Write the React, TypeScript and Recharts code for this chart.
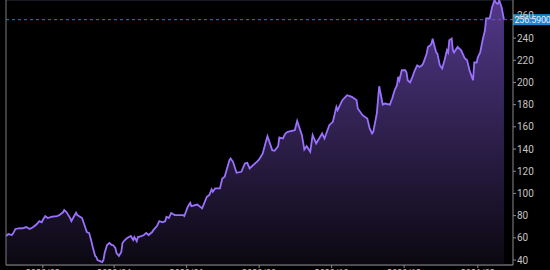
import {
  Area,
  AreaChart,
  CartesianGrid,
  ReferenceLine,
  XAxis,
  YAxis,
} from 'recharts'

const dates = [
  '2020-01-01', '2020-01-03', '2020-01-06', '2020-01-07', '2020-01-09', '2020-01-13', '2020-01-15', '2020-01-18',
  '2020-01-21', '2020-01-24', '2020-01-27', '2020-01-29', '2020-01-31', '2020-02-01', '2020-02-03', '2020-02-05',
  '2020-02-09', '2020-02-13', '2020-02-15', '2020-02-18', '2020-02-19', '2020-02-21', '2020-02-24', '2020-02-25',
  '2020-02-27', '2020-02-29', '2020-03-01', '2020-03-05', '2020-03-07', '2020-03-09', '2020-03-11', '2020-03-13',
  '2020-03-14', '2020-03-16', '2020-03-17', '2020-03-18', '2020-03-22', '2020-03-23', '2020-03-24', '2020-03-26',
  '2020-03-28', '2020-03-30', '2020-03-31', '2020-04-02', '2020-04-03', '2020-04-05', '2020-04-07', '2020-04-08',
  '2020-04-10', '2020-04-12', '2020-04-15', '2020-04-17', '2020-04-18', '2020-04-20', '2020-04-21', '2020-04-24',
  '2020-04-26', '2020-04-28', '2020-04-30', '2020-05-03', '2020-05-04', '2020-05-07', '2020-05-09', '2020-05-12',
  '2020-05-14', '2020-05-15', '2020-05-17', '2020-05-19', '2020-05-22', '2020-05-26', '2020-05-29', '2020-05-30',
  '2020-06-02', '2020-06-04', '2020-06-05', '2020-06-10', '2020-06-14', '2020-06-18', '2020-06-20', '2020-06-22',
  '2020-06-23', '2020-06-25', '2020-06-29', '2020-07-01', '2020-07-03', '2020-07-07', '2020-07-08', '2020-07-10',
  '2020-07-13', '2020-07-17', '2020-07-20', '2020-07-22', '2020-07-24', '2020-07-30', '2020-08-01', '2020-08-04',
  '2020-08-07', '2020-08-08', '2020-08-12', '2020-08-14', '2020-08-17', '2020-08-18', '2020-08-21', '2020-08-23',
  '2020-08-25', '2020-08-31', '2020-09-02', '2020-09-06', '2020-09-08', '2020-09-10', '2020-09-13', '2020-09-15',
  '2020-09-18', '2020-09-23', '2020-09-25', '2020-09-29', '2020-10-02', '2020-10-05', '2020-10-06', '2020-10-10',
  '2020-10-14', '2020-10-18', '2020-10-22', '2020-10-23', '2020-10-27', '2020-10-31', '2020-11-02', '2020-11-04',
  '2020-11-05', '2020-11-08', '2020-11-10', '2020-11-13', '2020-11-15', '2020-11-19', '2020-11-21', '2020-11-23',
  '2020-11-25', '2020-11-26', '2020-11-27', '2020-11-29', '2020-12-02', '2020-12-03', '2020-12-04', '2020-12-06',
  '2020-12-08', '2020-12-10', '2020-12-12', '2020-12-14', '2020-12-16', '2020-12-17', '2020-12-20', '2020-12-21',
  '2020-12-23', '2020-12-24', '2020-12-25', '2020-12-26', '2020-12-28', '2020-12-29', '2020-12-31', '2021-01-02',
  '2021-01-04', '2021-01-06', '2021-01-07', '2021-01-08', '2021-01-10', '2021-01-11', '2021-01-12', '2021-01-15',
  '2021-01-18', '2021-01-21', '2021-01-23', '2021-01-25', '2021-01-27', '2021-01-28', '2021-01-29', '2021-01-31',
  '2021-02-01', '2021-02-03', '2021-02-05', '2021-02-07', '2021-02-08', '2021-02-11', '2021-02-13', '2021-02-15',
  '2021-02-17', '2021-02-18', '2021-02-19', '2021-02-21', '2021-02-23',
]

const prices = [
  61.6, 63.4, 62.5, 64, 68, 68.8, 68.5, 69.7,
  68, 69.7, 72.4, 75, 74, 76, 79.6, 77.8,
  79, 79.6, 80.5, 83, 85, 83, 77.8, 75,
  79, 82.6, 80.5, 77.8, 71.5, 65.2, 64.3, 56.2,
  51.7, 43.6, 42.7, 40, 38.2, 40, 46.3, 53.5,
  55.3, 53.5, 53.5, 50.8, 46.3, 43.6, 47.2, 55.3,
  58, 59.8, 61.6, 58, 60.7, 57, 60.7, 61.6,
  62.5, 64.3, 62.5, 65.2, 67, 70.6, 75, 74,
  75, 79, 77.8, 82.3, 80.5, 80.5, 80.5, 79.6,
  88, 91.6, 88.6, 90, 86.5, 97, 98.5, 103.6,
  101.5, 104.5, 104.5, 113.5, 115, 130, 131.5, 128.5,
  118.6, 119.5, 127, 127.6, 122.5, 128.5, 130.6, 136,
  148, 151.6, 139, 138.4, 142.6, 150.4, 149.5, 154,
  155.5, 157, 165.4, 152.5, 139.6, 142.6, 137.5, 152.5,
  145, 154, 149.5, 161.5, 164.5, 178, 175, 184,
  188.5, 187, 184, 176.5, 170.5, 167.5, 158.5, 154,
  155.5, 172, 196.6, 180, 181, 180, 185.8, 193,
  197.5, 205, 202, 211, 211, 209, 202, 200,
  205, 211, 215.5, 214, 215.5, 217, 226, 232,
  233.5, 235, 239.5, 235, 227, 226, 215.5, 212.5,
  220, 229, 227, 238, 239.5, 229, 227, 232,
  229, 221.8, 220, 211, 205, 202, 218, 218,
  222.7, 227, 238, 247, 257.8, 257.8, 267.7, 274,
  271, 271, 274, 267.7, 256.59,
]

const monthTicks = ['2020/02', '2020/04', '2020/06', '2020/08', '2020/10', '2020/12', '2021/02']
const priceTicks = [40, 60, 80, 100, 120, 140, 160, 180, 200, 220, 240, 260]
const lastPrice = 256.59

const DAY = 86400000
const startT = Date.UTC(2020, 0, 1)
const endT = startT + 426.6 * DAY

const data = dates.map((d, i) => ({ t: Date.parse(d), price: prices[i] }))
const xTicks = monthTicks.map((m) => {
  const [y, mo] = m.split('/').map(Number)
  return Date.UTC(y, mo - 1, 1)
})

const fmtMonth = (t: number) => {
  const d = new Date(t)
  return `${d.getUTCFullYear()}/${String(d.getUTCMonth() + 1).padStart(2, '0')}`
}

const tickStyle = { fontSize: 10, fill: '#c4c4c4', fontFamily: 'Roboto, sans-serif' }

// last-price tag that sits on the right axis
function PriceBadge({ viewBox }: any) {
  if (!viewBox) return null
  const x = viewBox.x + viewBox.width
  const y = viewBox.y
  return (
    <g>
      <rect x={x} y={y - 5.5} width={37} height={11} fill="#1688d0" />
      <text
        x={x + 1.5}
        y={y + 3.3}
        fontSize={9}
        letterSpacing={-0.2}
        fill="#e8f4ff"
        fontFamily="Roboto, sans-serif"
      >
        {lastPrice.toFixed(4)}
      </text>
    </g>
  )
}

export default function App() {
  return (
    <div
      style={{
        position: 'absolute',
        left: 0,
        top: 0,
        width: 550,
        height: 270,
        overflow: 'hidden',
        background: '#000',
      }}
    >
      <AreaChart
        width={550}
        height={290}
        data={data}
        margin={{ top: 0, right: 0, left: 5, bottom: 0 }}
      >
        <defs>
          <linearGradient id="priceFill" x1="0" y1="0" x2="0" y2="1">
            <stop offset="0%" stopColor="#523889" />
            <stop offset="100%" stopColor="#0b0811" />
          </linearGradient>
        </defs>
        <CartesianGrid vertical={false} stroke="#20232f" strokeWidth={1.5} />
        <XAxis
          dataKey="t"
          type="number"
          domain={[startT, endT]}
          ticks={xTicks}
          tickFormatter={fmtMonth}
          tick={{ ...tickStyle, fontSize: 9 }}
          tickSize={3}
          tickMargin={2}
          height={25}
          stroke="#8a8a8a"
          allowDataOverflow
        />
        <YAxis
          yAxisId="left"
          orientation="left"
          width={1}
          tick={false}
          tickLine={false}
          stroke="#7a7a7a"
          domain={[35.5, 274.3]}
        />
        <YAxis
          yAxisId="right"
          orientation="right"
          width={37}
          domain={[35.5, 274.3]}
          ticks={priceTicks}
          tick={tickStyle}
          tickSize={3}
          tickMargin={1}
          stroke="#8a8a8a"
          allowDataOverflow
        />
        <Area
          yAxisId="right"
          type="linear"
          dataKey="price"
          stroke="#9a70ff"
          strokeWidth={1.8}
          fill="url(#priceFill)"
          fillOpacity={1}
          dot={false}
          activeDot={false}
          isAnimationActive={false}
        />
        <ReferenceLine
          yAxisId="right"
          y={lastPrice}
          stroke="#1f7fb5"
          strokeDasharray="3 3"
          label={<PriceBadge />}
        />
      </AreaChart>
    </div>
  )
}
